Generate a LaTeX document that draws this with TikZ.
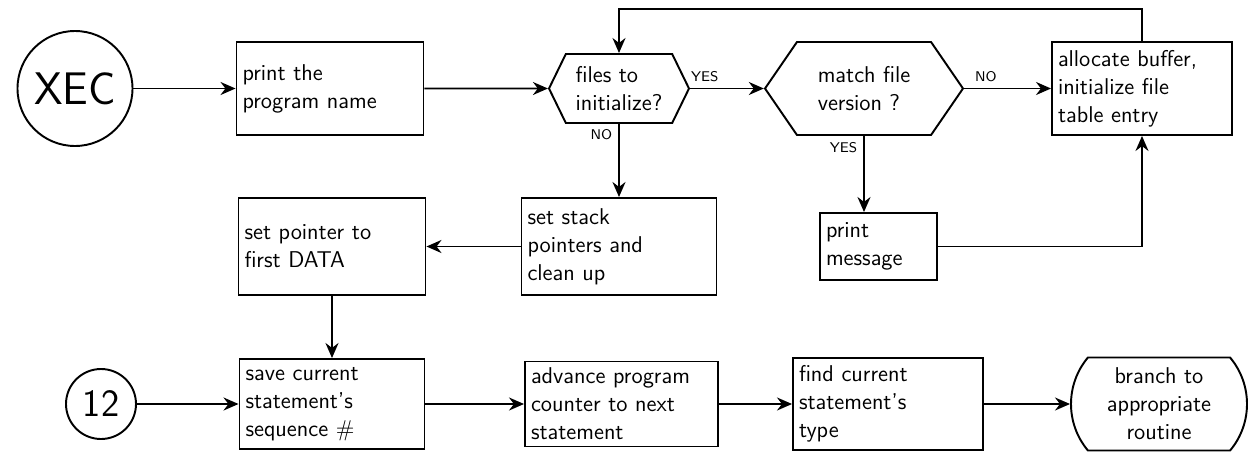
\documentclass[tikz,border=0pt]{standalone}
\usetikzlibrary{arrows.meta, shapes.symbols, shapes.misc}

\tikzset{
	procbox/.style={draw, line width=1.1pt, align=left, inner sep=1.2mm,
		font=\fontsize{13}{16}\selectfont\sffamily},
	decision/.style={draw, line width=1.1pt, signal, signal to=west and east,
		align=left, inner sep=1mm, font=\fontsize{13}{16}\selectfont\sffamily},
	connector/.style={draw, circle, line width=1.1pt, inner sep=0pt, font=\sffamily},
	flow/.style={line width=1.1pt, -{Stealth[length=3mm, width=2.6mm]}},
	answer/.style={font=\footnotesize\sffamily}
}

\begin{document}
\begin{tikzpicture}
	\useasboundingbox (0,0) rectangle (25.08,-9.06);

	% top row
	\node[connector, minimum size=2.3cm, font=\fontsize{26}{30}\selectfont\sffamily] (xec) at (1.5,-1.77) {XEC};
	\node[procbox, text width=3.5cm, minimum height=1.86cm] (print) at (6.6,-1.77) {print the\\program name};
	\node[decision, minimum width=2.8cm, minimum height=1.38cm, signal pointer angle=128] (files) at (12.38,-1.77) {files to\\initialize?};
	\node[decision, minimum width=3.96cm, minimum height=1.86cm, signal pointer angle=111] (version) at (17.28,-1.77) {match file\\version ?};
	\node[procbox, text width=3.36cm, minimum height=1.86cm] (alloc) at (22.84,-1.77) {allocate buffer,\\initialize file\\table entry};

	% middle row
	\node[procbox, text width=3.5cm, minimum height=1.94cm] (pointer) at (6.64,-4.93) {set pointer to\\first DATA};
	\node[procbox, text width=3.66cm, minimum height=1.94cm] (stack) at (12.38,-4.93) {set stack\\pointers and\\clean up};
	\node[procbox, text width=2.1cm, minimum height=1.34cm] (msg) at (17.57,-4.93) {print\\message};

	% bottom row
	\node[connector, minimum size=1.4cm, font=\fontsize{22}{26}\selectfont\sffamily] (c12) at (2.02,-8.08) {12};
	\node[procbox, text width=3.46cm, minimum height=1.8cm] (save) at (6.64,-8.08) {save current\\statement's\\sequence \#};
	\node[procbox, text width=3.62cm, minimum height=1.7cm] (advance) at (12.43,-8.08) {advance program\\counter to next\\statement};
	\node[procbox, text width=3.56cm, minimum height=1.84cm] (find) at (17.76,-8.08) {find current\\statement's\\type};
	\node[procbox, rounded rectangle, rounded rectangle arc length=80, align=center,
		minimum width=3.76cm, minimum height=1.86cm] (branch) at (23.18,-8.08) {branch to\\appropriate\\routine};

	% connectors
	\draw[flow] (xec) -- (print);
	\draw[flow] (print) -- (files);
	\draw[flow] (files.east) -- node[answer, pos=0.2, above] {YES} (version.west);
	\draw[flow] (version.east) -- node[answer, pos=0.25, above] {NO} (alloc.west);
	\draw[flow] (files.south) -- node[answer, pos=0.15, left] {NO} (stack.north);
	\draw[flow] (version.south) -- node[answer, pos=0.15, left] {YES} (version.south |- msg.north);
	\draw[flow] (msg.east) -| (alloc.south);
	\draw[flow] (alloc.north) -- ++(0,0.64) -| (files.north);
	\draw[flow] (stack) -- (pointer);
	\draw[flow] (pointer) -- (save);
	\draw[flow] (c12) -- (save);
	\draw[flow] (save) -- (advance);
	\draw[flow] (advance) -- (find);
	\draw[flow] (find) -- (branch);
\end{tikzpicture}
\end{document}
